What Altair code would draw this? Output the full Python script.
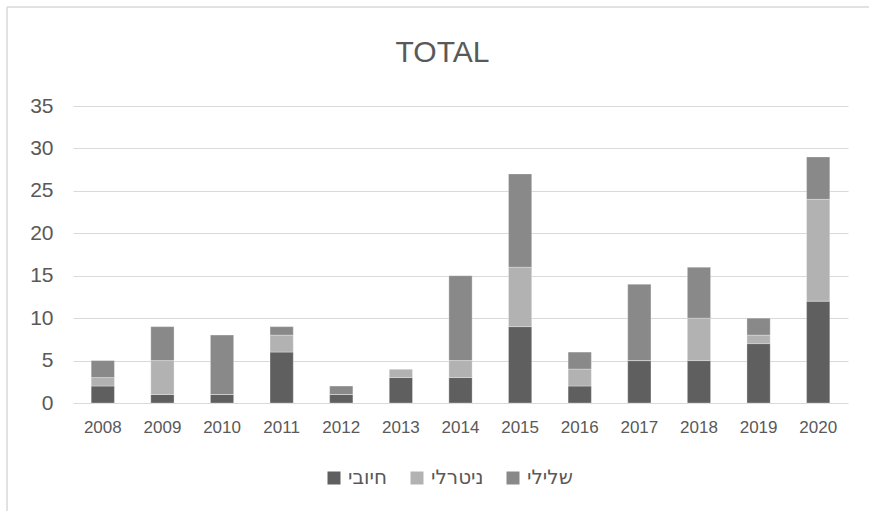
import altair as alt
import pandas as pd

years = ["2008", "2009", "2010", "2011", "2012", "2013", "2014",
         "2015", "2016", "2017", "2018", "2019", "2020"]
positive = [2, 1, 1, 6, 1, 3, 3, 9, 2, 5, 5, 7, 12]
neutral = [1, 4, 0, 2, 0, 1, 2, 7, 2, 0, 5, 1, 12]
negative = [2, 4, 7, 1, 1, 0, 10, 11, 2, 9, 6, 2, 5]
series = ["חיובי", "ניטרלי", "שלילי"]
colors = ["#5f5f5f", "#b2b2b2", "#898989"]

rows = []
for i, y in enumerate(years):
    for k, (name, vals) in enumerate(zip(series, [positive, neutral, negative])):
        rows.append({"year": y, "series": name, "value": vals[i], "k": k})
df = pd.DataFrame(rows)

W, H = 775, 297
PL, PT = 73, 106

bars = alt.Chart(df).mark_bar(stroke="#ffffff", strokeWidth=0.6, strokeOpacity=0.5).encode(
    x=alt.X("year:N", sort=years,
            scale=alt.Scale(paddingInner=0.61, paddingOuter=0.305),
            axis=alt.Axis(title=None, labelAngle=0, labelFontSize=17,
                          labelFont="Liberation Sans", labelColor="#595959",
                          labelPadding=16, ticks=False, domain=False, grid=False)),
    y=alt.Y("value:Q", stack="zero",
            scale=alt.Scale(domain=[0, 35], nice=False),
            axis=alt.Axis(title=None, values=[0, 5, 10, 15, 20, 25, 30, 35],
                          labelFontSize=21, labelFont="Liberation Sans",
                          labelColor="#595959", labelPadding=20, ticks=False,
                          domain=False, gridColor="#d9d9d9", gridWidth=1)),
    color=alt.Color("series:N", sort=series,
                    scale=alt.Scale(domain=series, range=colors),
                    legend=alt.Legend(title=None, orient="none", direction="horizontal",
                                      legendX=324 - PL, legendY=362,
                                      symbolType="square", symbolSize=169,
                                      symbolStrokeWidth=0, labelFontSize=20,
                                      labelFont="DejaVu Sans", labelColor="#595959",
                                      columnPadding=19, labelOffset=4)),
    order=alt.Order("k:Q", sort="ascending"),
)

frame = pd.DataFrame({"a": [0]})
left_line = alt.Chart(frame).mark_rule(color="#d9d9d9", strokeWidth=1.5).encode(
    x=alt.value(7 - PL), y=alt.value(7 - PT), y2=alt.value(511 - PT + 5))
top_line = alt.Chart(frame).mark_rule(color="#d9d9d9", strokeWidth=1.5).encode(
    x=alt.value(7 - PL), x2=alt.value(869 - PL + 5), y=alt.value(7 - PT))

chart = alt.layer(bars, left_line, top_line).properties(
    width=W, height=H,
    title=alt.TitleParams("TOTAL", fontSize=30, font="Liberation Sans",
                          fontWeight="normal", color="#595959", anchor="middle",
                          offset=0, dx=-18, dy=62),
    autosize=alt.AutoSizeParams(type="none"),
    padding={"left": PL, "top": PT, "right": 869 - PL - W, "bottom": 511 - PT - H},
).configure(background="#ffffff").configure_view(stroke="transparent", strokeWidth=0,
                                                 strokeOpacity=0)

chart.save("out.html", embed_options={"renderer": "svg", "actions": False})
